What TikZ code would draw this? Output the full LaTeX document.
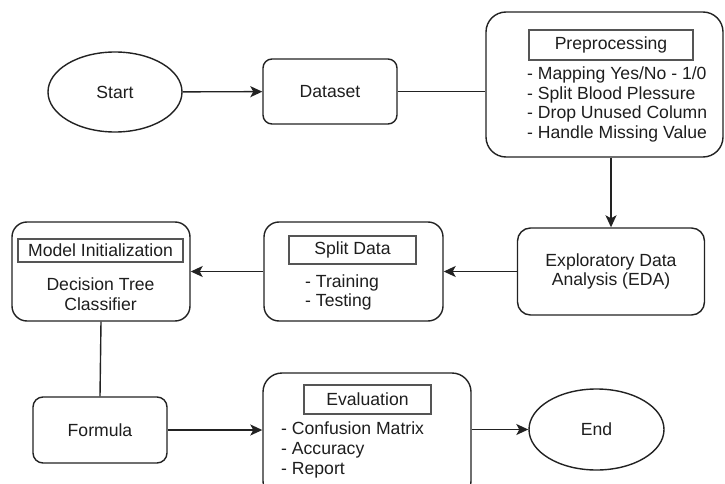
\documentclass[tikz,border=0pt]{standalone}
\usepackage{fontspec}
\setmainfont{Liberation Sans}
\usetikzlibrary{arrows.meta,shapes.geometric,calc}
\definecolor{ln}{HTML}{222222}
\definecolor{txt}{HTML}{1E1E1E}
\definecolor{tb}{HTML}{555555}
\begin{document}
\begin{tikzpicture}[x=1pt,y=-1pt,
  every node/.style={font=\fontsize{17.6}{19.8}\selectfont, text=txt, inner sep=0pt},
  box/.style={draw=ln, line width=1.4pt, rounded corners=#1, fill=white, rectangle},
  box/.default=10pt,
  oval/.style={draw=ln, line width=1.4pt, ellipse, fill=white},
  titlebox/.style={draw=tb, line width=1.1pt, rectangle},
  con/.style={draw=ln, line width=1.4pt},
  arr/.style={con, -{Stealth[length=12pt,width=11pt,inset=3pt]}},
]
\useasboundingbox (0,0) rectangle (725,484);
\clip (0,0) rectangle (725,484);
\fill[white] (0,0) rectangle (725,484);

% top row
\node[oval, minimum width=134pt, minimum height=80pt] (start) at (115,92) {Start};
\node[box=9pt, minimum width=134pt, minimum height=65pt] (dataset) at (330,91.5) {Dataset};
\node[box=20pt, minimum width=237pt, minimum height=145pt] (prep) at (604.5,84.5) {};
\node[titlebox, minimum width=164pt, minimum height=30pt] (preptitle) at (611,45) {Preprocessing};
\node[align=left, anchor=west] (preptext) at (527,104.5) {- Mapping Yes/No - 1/0\\- Split Blood Plessure\\- Drop Unused Column\\- Handle Missing Value};

% middle row
\node[box=13pt, minimum width=187pt, minimum height=87pt, align=center] (eda) at (611,271.5) {Exploratory Data\\Analysis (EDA)};
\node[box=15pt, minimum width=179pt, minimum height=99pt] (split) at (353.5,271.5) {};
\node[titlebox, minimum width=127pt, minimum height=28pt] (splittitle) at (352.5,250) {Split Data};
\node[align=left, anchor=west] (splittext) at (305,292.5) {- Training\\- Testing};
\node[box=15pt, minimum width=178pt, minimum height=99pt] (model) at (101,271.5) {};
\node[titlebox, minimum width=165pt, minimum height=23pt] (modeltitle) at (100.5,250.5) {Model Initialization};
\node[align=center] (modeltext) at (100.5,294) {Decision Tree\\Classifier};

% bottom row
\node[box=10pt, minimum width=134pt, minimum height=66pt] (formula) at (100,430) {Formula};
\node[box=19pt, minimum width=208pt, minimum height=127pt] (eval) at (367,436.5) {};
\node[titlebox, minimum width=127pt, minimum height=29pt] (evaltitle) at (367.5,399.5) {Evaluation};
\node[align=left, anchor=west] (evaltext) at (281,450) {- Confusion Matrix\\- Accuracy\\- Report};
\node[oval, minimum width=135pt, minimum height=81pt] (end) at (596.5,429.5) {End};

% connectors
\draw[arr] (start) -- (dataset);
\draw[con] (dataset.east) -- (dataset.east -| prep.west);
\draw[arr] (prep.south -| eda.north) -- (eda.north);
\draw[arr] (eda.west) -- (split.east);
\draw[arr] (split.west) -- (model.east);
\draw[con] (model.south) -- (formula.north);
\draw[arr] (formula.east) -- (formula.east -| eval.west);
\draw[arr] (eval.east |- end.west) -- (end.west);
\end{tikzpicture}
\end{document}
